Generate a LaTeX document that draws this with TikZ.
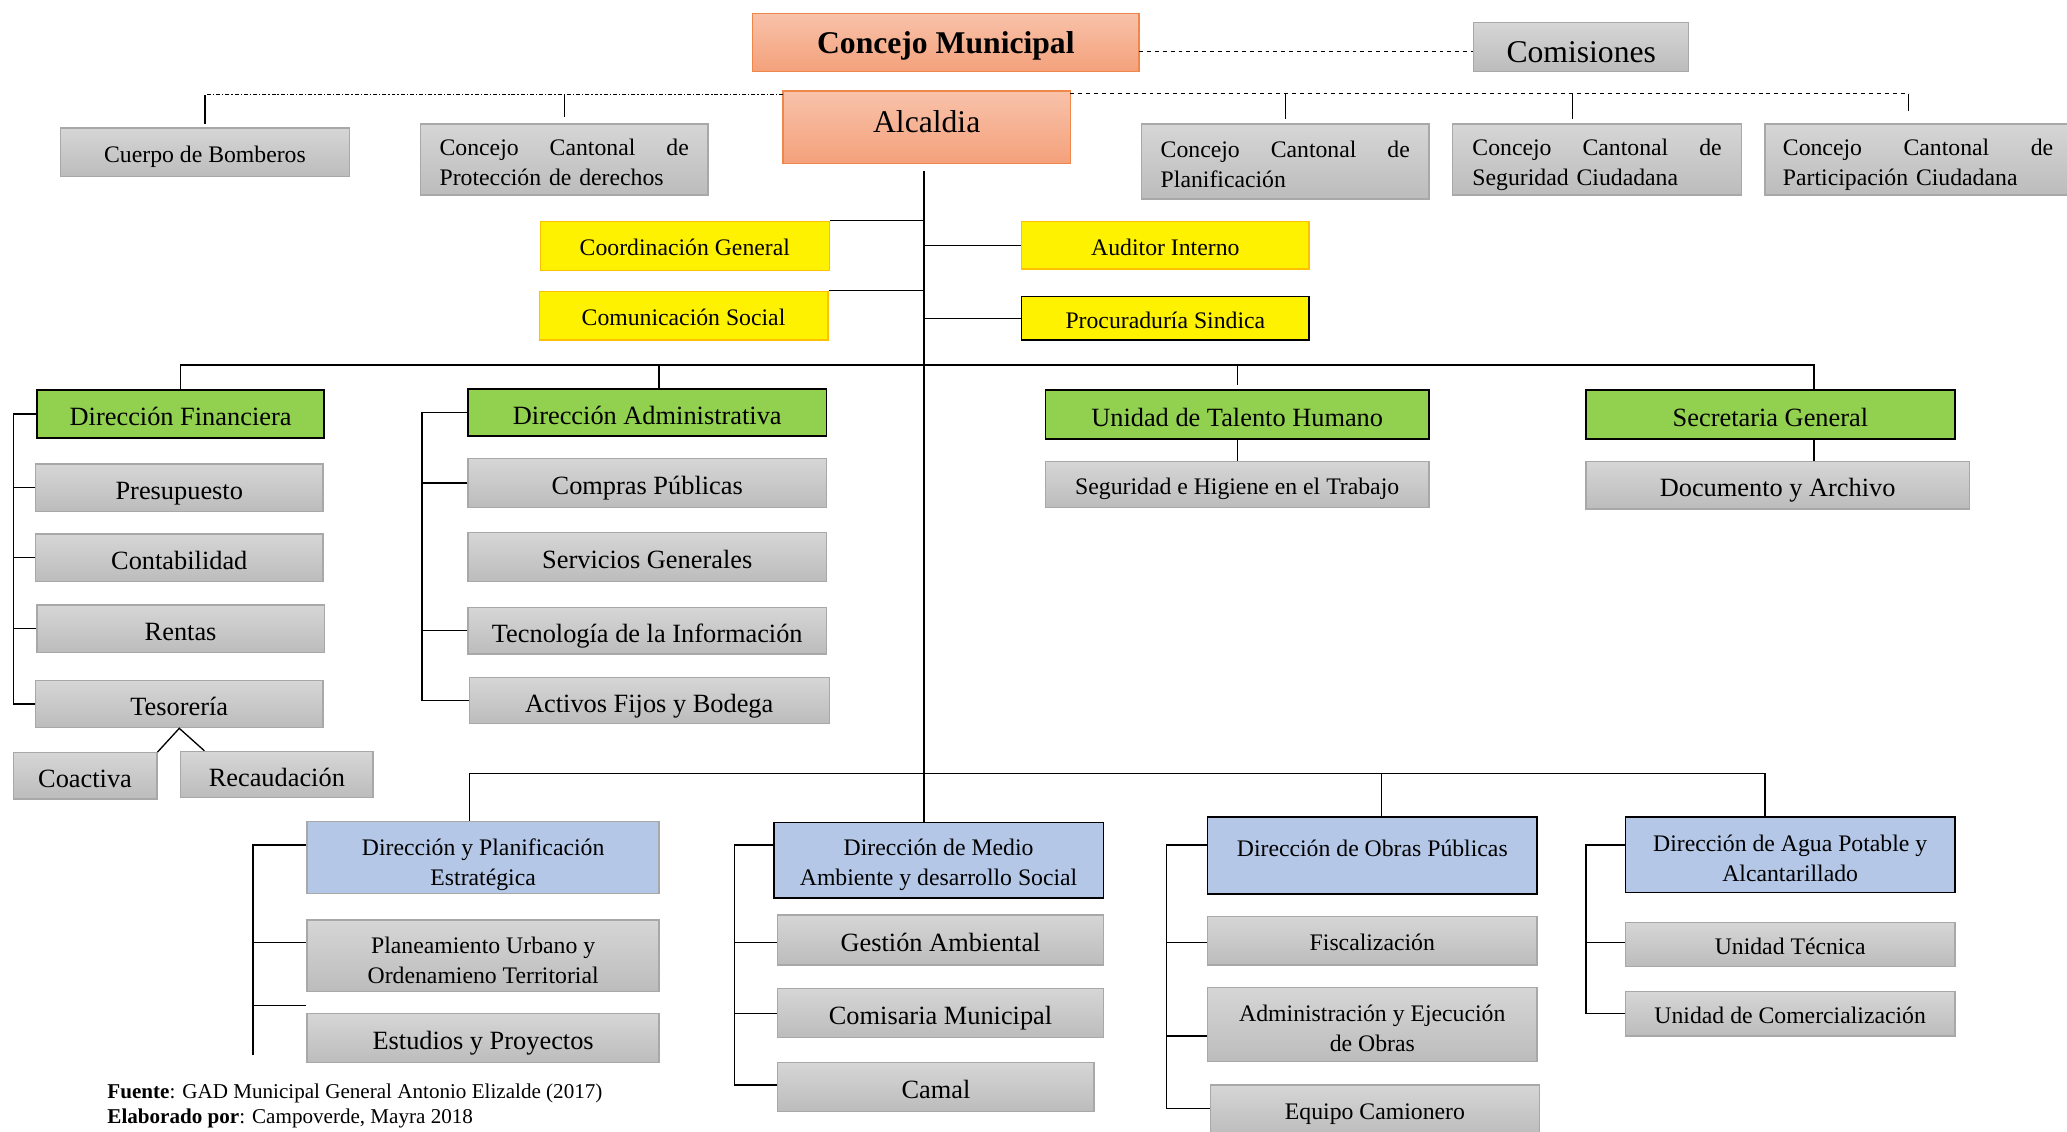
\documentclass[tikz,border=0pt]{standalone}
\usepackage{fontspec}
\setmainfont{Liberation Serif}
\usepackage{tikz}
\definecolor{grayA}{HTML}{D6D6D6}
\definecolor{grayB}{HTML}{BCBCBC}
\definecolor{grayL}{HTML}{A8A8A8}
\definecolor{salmonA}{HTML}{F8C2AA}
\definecolor{salmonB}{HTML}{F4A17B}
\definecolor{salmonL}{HTML}{F0874A}
\definecolor{dirgreen}{HTML}{92D050}
\definecolor{dirblue}{HTML}{B4C7E7}
\definecolor{ylwline}{HTML}{FFC000}

\begin{document}
\begin{tikzpicture}[x=1pt,y=-1pt,line width=1pt]
\tikzstyle{every node}+=[inner sep=0pt]
\tikzstyle{graybox}=[draw=grayL, top color=grayA, bottom color=grayB]
\tikzstyle{salmonbox}=[draw=salmonL, top color=salmonA, bottom color=salmonB]
\tikzstyle{ylwbox}=[draw=ylwline, fill=yellow]
\tikzstyle{grnbox}=[draw=black, fill=dirgreen, line width=1.3pt]
\tikzstyle{bluebox}=[draw=black, fill=dirblue, line width=1.3pt]
\tikzstyle{fA}=[font=\fontsize{18}{22}\selectfont, text height=15pt, text depth=0pt]
\tikzstyle{fB}=[font=\fontsize{20}{24}\selectfont, text height=17.6pt, text depth=0pt]
\tikzstyle{fC}=[font=\fontsize{24}{28}\selectfont, text height=23.4pt, text depth=0pt]
\tikzstyle{twolines}=[fA, font=\fontsize{18}{23}\selectfont, align=center, text height=42pt]
\tikzstyle{cantonal}=[graybox, font=\fontsize{18}{23}\selectfont, text height=15pt, text depth=21pt, minimum width=218pt, text width=189pt, align=left]
\useasboundingbox (0,0) rectangle (1568,858);

% top level
\node[salmonbox, minimum width=293pt, minimum height=44pt, font=\fontsize{24}{28}\selectfont\bfseries, text height=17pt, text depth=0pt] (cm) at (717.5,32) {Concejo Municipal};
\node[graybox, fC, minimum width=163pt, minimum height=37pt] (com) at (1199.5,35.5) {Comisiones};
\node[salmonbox, fC, text height=16pt, text depth=8pt, minimum width=218pt, minimum height=55pt] (alc) at (703,96.5) {Alcaldia};
\node[graybox, fA, minimum width=219pt, minimum height=37pt] (bom) at (155.5,115.5) {Cuerpo de Bomberos};
\node[cantonal, minimum height=54pt] (ccp) at (428,121) {Concejo\hfill Cantonal\hfill de\\Protección de derechos};
\node[cantonal, minimum height=57pt] (ccpl) at (975,122.5) {Concejo\hfill Cantonal\hfill de\\Planificación};
\node[cantonal, minimum width=219pt, minimum height=54pt] (ccs) at (1211.5,121) {Concejo\hfill Cantonal\hfill de\\Seguridad Ciudadana};
\node[cantonal, minimum width=232pt, text width=205pt, minimum height=54pt] (ccpc) at (1455,121) {Concejo\hfill Cantonal\hfill de\\Participación Ciudadana};

% staff units
\node[ylwbox, fA, minimum width=219pt, minimum height=37pt] (coord) at (519.5,186.5) {Coordinación General};
\node[ylwbox, fA, minimum width=219pt, minimum height=37pt] (comu) at (518.5,239.5) {Comunicación Social};
\node[ylwbox, fA, minimum width=218pt, minimum height=36pt] (aud) at (884,186) {Auditor Interno};
\node[ylwbox, fA, draw=black, minimum width=218pt, minimum height=33pt] (proc) at (884,241.5) {Procuraduría Sindica};

% directions (green)
\node[grnbox, fB, minimum width=218pt, minimum height=36pt] (dfin) at (137,314) {Dirección Financiera};
\node[grnbox, fB, minimum width=272pt, minimum height=36pt] (dadm) at (491,313) {Dirección Administrativa};
\node[grnbox, fB, minimum width=291pt, minimum height=37pt] (uth) at (938.5,314.5) {Unidad de Talento Humano};
\node[grnbox, fB, minimum width=280pt, minimum height=37pt] (sg) at (1343,314.5) {Secretaria General};
\node[graybox, fA, minimum width=291pt, minimum height=35pt] (shi) at (938.5,367.5) {Seguridad e Higiene en el Trabajo};
\node[graybox, fB, minimum width=291pt, minimum height=36pt] (doc) at (1348.5,368) {Documento y Archivo};

\node[graybox, fB, minimum width=218pt, minimum height=36pt] (pre) at (136,370) {Presupuesto};
\node[graybox, fB, minimum width=218pt, minimum height=36pt] (con) at (136,423) {Contabilidad};
\node[graybox, fB, minimum width=218pt, minimum height=36pt] (ren) at (137,477) {Rentas};
\node[graybox, fB, minimum width=218pt, minimum height=36pt] (tes) at (136,534) {Tesorería};
\node[graybox, fB, minimum width=109pt, minimum height=35pt] (coa) at (64.5,588.5) {Coactiva};
\node[graybox, fB, minimum width=146pt, minimum height=35pt] (rec) at (210,587.5) {Recaudación};

\node[graybox, fB, minimum width=272pt, minimum height=37pt] (cp) at (491,366.5) {Compras Públicas};
\node[graybox, fB, minimum width=272pt, minimum height=37pt] (sgen) at (491,422.5) {Servicios Generales};
\node[graybox, fB, minimum width=272pt, minimum height=35pt] (tec) at (491,478.5) {Tecnología de la Información};
\node[graybox, fB, minimum width=273pt, minimum height=35pt] (act) at (492.5,531.5) {Activos Fijos y Bodega};

% directions (blue)
\node[bluebox, twolines, text height=43pt, draw=grayL, line width=1pt, minimum width=267pt, minimum height=55pt] (dpe) at (366.5,650.5) {Dirección y Planificación\\Estratégica};
\node[bluebox, twolines, text height=39pt, minimum width=250pt, minimum height=57pt] (dma) at (712,652.5) {Dirección de Medio\\Ambiente y desarrollo Social};
\node[bluebox, twolines, text height=47pt, minimum width=250pt, minimum height=58pt] (dop) at (1041,649) {Dirección de Obras Públicas\\\mbox{}};
\node[bluebox, twolines, text height=41pt, minimum width=250pt, minimum height=57pt] (dap) at (1358,648.5) {Dirección de Agua Potable y\\Alcantarillado};

\node[graybox, twolines, text height=42pt, minimum width=267pt, minimum height=54pt] (pu) at (366.5,725) {Planeamiento Urbano y\\Ordenamieno Territorial};
\node[graybox, fB, minimum width=267pt, minimum height=37pt] (ep) at (366.5,787.5) {Estudios y Proyectos};
\node[graybox, fB, minimum width=247pt, minimum height=38pt] (ga) at (713.5,713) {Gestión Ambiental};
\node[graybox, fB, minimum width=247pt, minimum height=37pt] (cmu) at (713.5,768.5) {Comisaria Municipal};
\node[graybox, fB, minimum width=240pt, minimum height=37pt] (cam) at (710,824.5) {Camal};
\node[graybox, fA, minimum width=250pt, minimum height=37pt] (fis) at (1041,713.5) {Fiscalización};
\node[graybox, twolines, text height=42pt, minimum width=250pt, minimum height=56pt] (aeo) at (1041,777) {Administración y Ejecución\\de Obras};
\node[graybox, fA, minimum width=250pt, minimum height=38pt] (eqc) at (1043,842) {Equipo Camionero};
\node[graybox, fA, minimum width=250pt, minimum height=33pt] (ut) at (1358,716.5) {Unidad Técnica};
\node[graybox, fA, minimum width=250pt, minimum height=34pt] (uc) at (1358,769) {Unidad de Comercialización};

\node[anchor=north west, align=left, font=\fontsize{16}{19}\selectfont] (src) at (81,822) {\textbf{Fuente}: GAD Municipal General Antonio Elizalde (2017)\\\textbf{Elaborado por}: Campoverde, Mayra 2018};

% dotted links
\coordinate (cmd) at (864,39);
\draw[dashed, line width=0.8pt] (cmd) -- (cmd -| com.west);
\coordinate (ldl) at (594,72);
\draw[dash pattern=on 3pt off 1.5pt on 1pt off 1.5pt, line width=0.8pt] (ldl) -- (ldl -| bom.north);
\draw (ldl -| bom.north) -- ++(0,22);
\draw (ldl -| ccp.north) -- ++(0,17);
\coordinate (rdl) at (812,71);
\coordinate (rdr) at (1448,71);
\draw[dashed, line width=0.8pt] (rdl) -- (rdr);
\draw (rdl -| ccpl.north) -- ++(0,19);
\draw (1193,71) -- ++(0,19);
\draw (rdr) -- ++(0,13);

% trunk
\coordinate (tr) at (701,130);
\draw (tr) -- (tr |- dma.north);
\draw (coord.north east) -- (coord.north east -| tr);
\draw (comu.north east) -- (comu.north east -| tr);
\draw (aud.west) -- (aud.west -| tr);
\draw (proc.west) -- (proc.west -| tr);

% green bus
\coordinate (sgx) at (1376,277);
\coordinate (adx) at (500,277);
\draw (dfin.north) |- (sgx) -- (sgx |- sg.north);
\draw (adx) -- (adx |- dadm.north);
\draw (uth.north |- sgx) -- ++(0,15);
\draw (uth.south) -- (shi.north);
\draw (sgx |- sg.south) -- (sgx |- doc.north);

% financiera
\coordinate (fsp) at (10,313);
\draw (dfin.west) -- (dfin.west -| fsp) |- (tes.west);
\foreach \n in {pre,con,ren} \draw (\n.west) -- (\n.west -| fsp);
\draw (coa.north east) -- (tes.south) -- ([xshift=-55pt]rec.north);

% administrativa
\coordinate (asp) at (320,313);
\draw (dadm.west) -- (dadm.west -| asp) |- (act.west);
\foreach \n in {cp,tec} \draw (\n.west) -- (\n.west -| asp);

% lower bus
\coordinate (lb1) at (356,587);
\coordinate (lb2) at (1339,587);
\coordinate (lb3) at (1048,587);
\draw (lb1 |- dpe.north) -- (lb1) -- (lb2) -- (lb2 |- dap.north);
\draw (lb3) -- (lb3 |- dop.north);

% lower columns
\coordinate (psb) at (192,800);
\draw (dpe.west |- 0,641) -| (psb);
\foreach \y/\n in {715/pu,763/ep} \draw (psb |- 0,\y) -- (\n.west |- 0,\y);
\coordinate (msb) at (557,824);
\draw (dma.west |- 0,641) -| (msb);
\foreach \y/\n in {715/ga,769/cmu,823/cam} \draw (msb |- 0,\y) -- (\n.west |- 0,\y);
\coordinate (osb) at (885,841);
\draw (dop.west |- 0,641) -| (osb);
\foreach \y/\n in {715/fis,786/aeo,841/eqc} \draw (osb |- 0,\y) -- (\n.west |- 0,\y);
\coordinate (asb) at (1203,769);
\draw (dap.west |- 0,641) -| (asb);
\foreach \y/\n in {715/ut,769/uc} \draw (asb |- 0,\y) -- (\n.west |- 0,\y);
\end{tikzpicture}
\end{document}
